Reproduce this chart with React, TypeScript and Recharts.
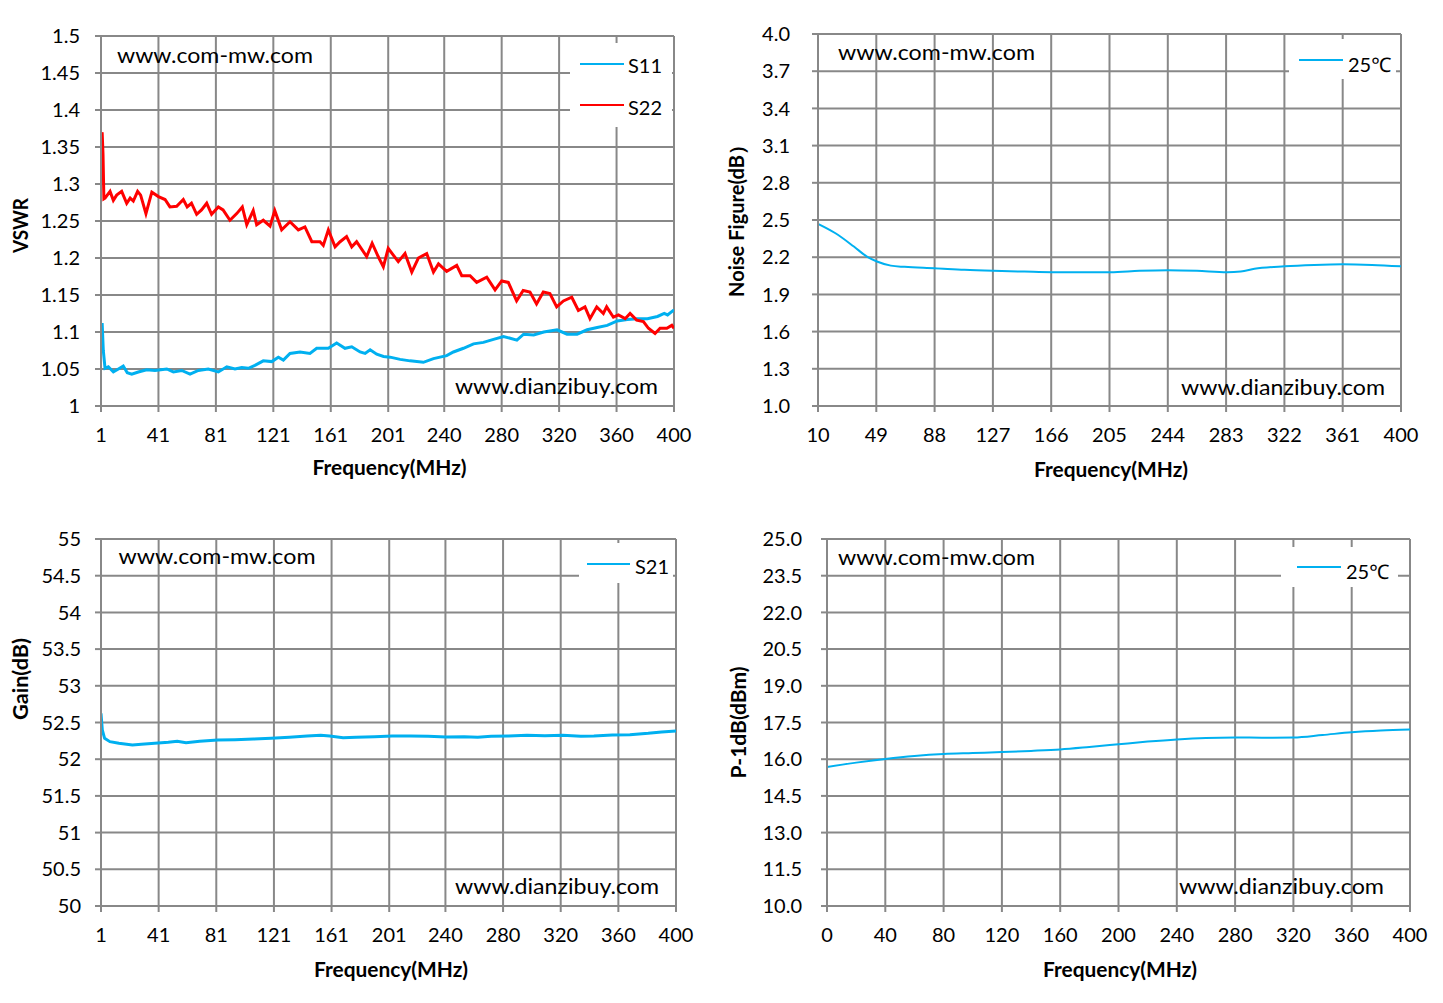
import React from 'react';
import { LineChart, Line, XAxis, YAxis, CartesianGrid, Legend } from 'recharts';

// ---------- tick labels ----------
const vswrXTicks = [1, 41, 81, 121, 161, 201, 240, 280, 320, 360, 400];
const vswrYTicks = [1, 1.05, 1.1, 1.15, 1.2, 1.25, 1.3, 1.35, 1.4, 1.45, 1.5];
const nfXTicks = [10, 49, 88, 127, 166, 205, 244, 283, 322, 361, 400];
const nfYTicks = [1.0, 1.3, 1.6, 1.9, 2.2, 2.5, 2.8, 3.1, 3.4, 3.7, 4.0];
const gainXTicks = [1, 41, 81, 121, 161, 201, 240, 280, 320, 360, 400];
const gainYTicks = [50, 50.5, 51, 51.5, 52, 52.5, 53, 53.5, 54, 54.5, 55];
const p1dbXTicks = [0, 40, 80, 120, 160, 200, 240, 280, 320, 360, 400];
const p1dbYTicks = [10, 11.5, 13, 14.5, 16, 17.5, 19, 20.5, 22, 23.5, 25];

// ---------- VSWR S11 ----------
const s11Freq = [1, 1.8, 2.6, 3.8, 6.1, 9.6, 13.1, 16.5, 19.3, 22.4, 27, 32.8, 38.6, 46.8, 51.4, 57.2, 63, 68.8, 75.7, 82.7, 88.6, 94.3, 99, 103.6, 108.2, 114, 119.9, 124.5, 128, 132.6, 139.6, 146.5, 151.2, 159.3, 165.1, 170.9, 175.6, 181.4, 184.9, 188.4, 193, 197.7, 202.3, 209.3, 216.2, 225.5, 232.5, 241.7, 246.4, 253.4, 260.4, 267.3, 274.3, 281.3, 290.6, 295.3, 302.3, 309.3, 318.6, 325.5, 332.5, 339.5, 346.5, 353.5, 360.5, 367.5, 374.5, 381.5, 388.5, 393.2, 395.5, 400];
const s11Vswr = [1.1, 1.112, 1.075, 1.051, 1.053, 1.046, 1.05, 1.054, 1.045, 1.043, 1.046, 1.049, 1.048, 1.05, 1.046, 1.048, 1.043, 1.048, 1.05, 1.046, 1.053, 1.05, 1.052, 1.051, 1.055, 1.061, 1.06, 1.066, 1.062, 1.071, 1.073, 1.071, 1.078, 1.078, 1.085, 1.078, 1.08, 1.073, 1.071, 1.076, 1.07, 1.067, 1.066, 1.063, 1.061, 1.059, 1.064, 1.068, 1.073, 1.078, 1.084, 1.086, 1.09, 1.094, 1.089, 1.097, 1.096, 1.1, 1.103, 1.097, 1.097, 1.103, 1.106, 1.109, 1.115, 1.117, 1.118, 1.118, 1.121, 1.125, 1.123, 1.13];

// ---------- VSWR S22 ----------
const s22Freq = [1, 1.8, 2.4, 3, 3.8, 7.3, 9.6, 11.9, 15.4, 18.9, 21.3, 23.5, 26.5, 28.6, 32.3, 36.4, 41, 45.6, 49, 53.7, 58.3, 61, 64, 67.6, 71, 74.6, 78, 82.7, 86, 90.8, 95.5, 99.4, 102.5, 107, 109.4, 114, 118.7, 122, 126.8, 132.6, 138.4, 143, 147.8, 153.5, 155.8, 159.3, 164, 167.5, 172, 175.6, 179, 186, 189.8, 194, 197.6, 201, 208, 212.7, 217.4, 222, 227.8, 232.5, 236, 241.7, 248.7, 252.2, 258, 262.6, 269.6, 275.4, 280, 284.6, 290.4, 295, 299.7, 304.3, 309, 313.6, 318.3, 323, 328.8, 333.4, 338, 341.5, 346.2, 350.8, 353.1, 357.8, 361.3, 366, 369.4, 374, 378.7, 382.2, 386.8, 390.3, 395, 398.5, 400];
const s22Vswr = [1.36, 1.37, 1.34, 1.28, 1.281, 1.29, 1.278, 1.285, 1.29, 1.274, 1.281, 1.277, 1.29, 1.285, 1.26, 1.289, 1.283, 1.279, 1.269, 1.27, 1.279, 1.269, 1.274, 1.259, 1.265, 1.274, 1.259, 1.269, 1.265, 1.251, 1.26, 1.269, 1.245, 1.264, 1.245, 1.251, 1.243, 1.264, 1.238, 1.249, 1.238, 1.242, 1.222, 1.222, 1.217, 1.238, 1.215, 1.222, 1.229, 1.215, 1.222, 1.202, 1.22, 1.202, 1.188, 1.213, 1.195, 1.206, 1.181, 1.2, 1.206, 1.181, 1.192, 1.182, 1.19, 1.176, 1.176, 1.167, 1.174, 1.157, 1.169, 1.167, 1.142, 1.156, 1.154, 1.138, 1.154, 1.152, 1.134, 1.142, 1.147, 1.129, 1.134, 1.118, 1.134, 1.125, 1.134, 1.12, 1.123, 1.118, 1.125, 1.116, 1.114, 1.105, 1.098, 1.105, 1.105, 1.109, 1.105];

// ---------- Noise figure ----------
const nfFreq = [10, 21.7, 34, 43.3, 49.4, 58.7, 67.9, 88, 108, 127.4, 148, 166.5, 185, 205.6, 225, 244, 263.5, 283.6, 292.8, 302, 322, 342, 361, 380.6, 400];
const nf25C = [2.469, 2.393, 2.286, 2.2, 2.165, 2.132, 2.122, 2.111, 2.098, 2.09, 2.084, 2.079, 2.079, 2.079, 2.09, 2.095, 2.09, 2.079, 2.084, 2.106, 2.127, 2.138, 2.143, 2.138, 2.127];

// ---------- Gain S21 ----------
const gainFreq = [1, 1.9, 3.5, 7.2, 13.4, 22.8, 29, 38.3, 47.7, 53.9, 60, 69.5, 82, 94, 106.8, 119, 131.7, 144, 153.5, 159.7, 169, 178, 190.8, 203, 215.7, 228, 240.6, 253, 262.4, 271.7, 284, 296.6, 309, 321.5, 334, 343, 355.8, 368, 380.7, 390, 400];
const gainS21 = [52.625, 52.398, 52.284, 52.239, 52.216, 52.194, 52.203, 52.216, 52.23, 52.244, 52.225, 52.244, 52.262, 52.266, 52.275, 52.284, 52.298, 52.316, 52.325, 52.316, 52.293, 52.298, 52.307, 52.316, 52.316, 52.312, 52.303, 52.307, 52.298, 52.312, 52.316, 52.325, 52.321, 52.325, 52.312, 52.316, 52.33, 52.334, 52.353, 52.371, 52.384];

// ---------- P-1dB ----------
const p1dbFreq = [0, 20, 40, 60, 80, 100, 120, 140, 160, 180, 200, 220, 240, 260, 280, 300, 320, 340, 360, 380, 400];
const p1db25C = [15.68, 15.86, 16.01, 16.13, 16.21, 16.25, 16.29, 16.34, 16.4, 16.5, 16.61, 16.72, 16.81, 16.87, 16.89, 16.88, 16.89, 16.99, 17.1, 17.17, 17.21];

// ---------- styling ----------
const FONT = 'Lato, "Open Sans", "Noto Sans", sans-serif';
const GRID = '#888888';
const BLUE = '#00B0F0';
const RED = '#FF0000';
const Y_W = 70;
const X_H = 40;

const toPoints = (xs: number[], ys: number[]) => xs.map((f, i) => ({ f, v: ys[i] }));

type Series = { name: string; color: string; width: number; curve: 'linear' | 'monotone'; freq: number[]; values: number[] };
type LegendBoxDef = { x: number; y: number; w: number; h: number; lineX: number; lineLen: number; textX: number; rows: number[]; capRows: number[] };
type PanelDef = {
  left: number; top: number; width: number; height: number;
  plot: { x0: number; x1: number; y0: number; y1: number };
  xDomain: [number, number]; xTicks: number[];
  yDomain: [number, number]; yTicks: number[]; yFixed: boolean; yTickMargin: number;
  series: Series[];
  legend: LegendBoxDef;
};

const LegendBox = ({ payload, box }: { payload?: any[]; box: LegendBoxDef }) => (
  <div style={{ position: 'relative', width: box.w, height: box.h, background: '#ffffff', fontFamily: FONT }}>
    {(payload || []).map((p: any, i: number) => (
      <React.Fragment key={i}>
        <div style={{ position: 'absolute', left: box.lineX - box.x, top: box.rows[i] - box.y - 1, width: box.lineLen, height: 2, background: p.color }} />
        <span style={{ position: 'absolute', left: box.textX - box.x, top: box.capRows[i] - box.y - 12.5, fontSize: 20, lineHeight: '24px', color: '#000', whiteSpace: 'nowrap' }}>{p.value}</span>
      </React.Fragment>
    ))}
  </div>
);

const Panel = ({ d }: { d: PanelDef }) => {
  const margin = {
    top: d.plot.y0 - d.top,
    right: d.left + d.width - d.plot.x1,
    left: d.plot.x0 - d.left - Y_W,
    bottom: d.top + d.height - d.plot.y1 - X_H,
  };
  const tickStyle = { fontSize: 20, fill: '#000', fontFamily: FONT };
  return (
    <div style={{ position: 'absolute', left: d.left, top: d.top, width: d.width, height: d.height }}>
      <LineChart width={d.width} height={d.height} margin={margin}>
        <CartesianGrid stroke={GRID} strokeWidth={2} />
        <XAxis
          type="number" dataKey="f" domain={d.xDomain} ticks={d.xTicks} interval={0} allowDataOverflow
          height={X_H} tick={tickStyle} tickSize={6} tickMargin={15.5}
          axisLine={{ stroke: GRID, strokeWidth: 2 }} tickLine={{ stroke: GRID, strokeWidth: 2 }}
        />
        <YAxis
          type="number" domain={d.yDomain} ticks={d.yTicks} interval={0} allowDataOverflow
          width={Y_W} tick={tickStyle} tickSize={6} tickMargin={d.yTickMargin}
          tickFormatter={(v: number) => (d.yFixed ? v.toFixed(1) : String(v))}
          axisLine={{ stroke: GRID, strokeWidth: 2 }} tickLine={{ stroke: GRID, strokeWidth: 2 }}
        />
        {d.series.map((s) => (
          <Line
            key={s.name} data={toPoints(s.freq, s.values)} dataKey="v" name={s.name}
            stroke={s.color} strokeWidth={s.width} type={s.curve} dot={false} activeDot={false}
            isAnimationActive={false}
          />
        ))}
        <Legend
          layout="vertical" align="center" verticalAlign="middle"
          wrapperStyle={{ left: d.legend.x - d.left, top: d.legend.y - d.top, width: d.legend.w, height: d.legend.h, margin: 0, padding: 0 }}
          content={(p: any) => <LegendBox payload={p.payload} box={d.legend} />}
        />
      </LineChart>
    </div>
  );
};

const panels: PanelDef[] = [
  {
    left: 0, top: 0, width: 700, height: 490,
    plot: { x0: 101, x1: 674, y0: 36, y1: 406 },
    xDomain: [1, 400], xTicks: vswrXTicks, yDomain: [1, 1.5], yTicks: vswrYTicks, yFixed: false, yTickMargin: 15,
    series: [
      { name: 'S11', color: BLUE, width: 3, curve: 'linear', freq: s11Freq, values: s11Vswr },
      { name: 'S22', color: RED, width: 3, curve: 'linear', freq: s22Freq, values: s22Vswr },
    ],
    legend: { x: 570, y: 43, w: 102, h: 84, lineX: 580, lineLen: 44, textX: 628, rows: [63.5, 105], capRows: [65, 107] },
  },
  {
    left: 720, top: 0, width: 723, height: 490,
    plot: { x0: 818, x1: 1401, y0: 34, y1: 406 },
    xDomain: [10, 400], xTicks: nfXTicks, yDomain: [1, 4], yTicks: nfYTicks, yFixed: true, yTickMargin: 22,
    series: [{ name: '25℃', color: BLUE, width: 2, curve: 'monotone', freq: nfFreq, values: nf25C }],
    legend: { x: 1289, y: 39, w: 107, h: 40, lineX: 1299, lineLen: 44, textX: 1348, rows: [59.5], capRows: [64] },
  },
  {
    left: 0, top: 500, width: 700, height: 500,
    plot: { x0: 101, x1: 676, y0: 539, y1: 906 },
    xDomain: [1, 400], xTicks: gainXTicks, yDomain: [50, 55], yTicks: gainYTicks, yFixed: false, yTickMargin: 14,
    series: [{ name: 'S21', color: BLUE, width: 3, curve: 'linear', freq: gainFreq, values: gainS21 }],
    legend: { x: 579, y: 543, w: 94, h: 40, lineX: 587, lineLen: 43, textX: 635, rows: [564], capRows: [566] },
  },
  {
    left: 720, top: 500, width: 723, height: 500,
    plot: { x0: 827, x1: 1410, y0: 539, y1: 906 },
    xDomain: [0, 400], xTicks: p1dbXTicks, yDomain: [10, 25], yTicks: p1dbYTicks, yFixed: true, yTickMargin: 19,
    series: [{ name: '25℃', color: BLUE, width: 2, curve: 'monotone', freq: p1dbFreq, values: p1db25C }],
    legend: { x: 1281, y: 547, w: 117, h: 40, lineX: 1297, lineLen: 44, textX: 1346, rows: [567], capRows: [571] },
  },
];

type Txt = { text: string; x: number; y: number; len: number; size: number; bold?: boolean; rot?: boolean; anchor?: 'start' | 'middle' };

const overlayTexts: Txt[] = [
  // watermarks
  { text: 'www.com-mw.com', x: 117, y: 63, len: 196, size: 22 },
  { text: 'www.dianzibuy.com', x: 455, y: 394, len: 203, size: 22 },
  { text: 'www.com-mw.com', x: 838, y: 60, len: 197, size: 22 },
  { text: 'www.dianzibuy.com', x: 1181, y: 395, len: 204, size: 22 },
  { text: 'www.com-mw.com', x: 118.5, y: 563.5, len: 197, size: 22 },
  { text: 'www.dianzibuy.com', x: 455, y: 893.5, len: 204, size: 22 },
  { text: 'www.com-mw.com', x: 838, y: 564.5, len: 197, size: 22 },
  { text: 'www.dianzibuy.com', x: 1179, y: 893.5, len: 205, size: 22 },
  // x titles
  { text: 'Frequency(MHz)', x: 389.5, y: 475, len: 154, size: 20, bold: true, anchor: 'middle' },
  { text: 'Frequency(MHz)', x: 1111, y: 476.5, len: 154, size: 20, bold: true, anchor: 'middle' },
  { text: 'Frequency(MHz)', x: 391, y: 976.5, len: 154, size: 20, bold: true, anchor: 'middle' },
  { text: 'Frequency(MHz)', x: 1120, y: 976.5, len: 154, size: 20, bold: true, anchor: 'middle' },
  // y titles (rotated)
  { text: 'VSWR', x: 28, y: 225.5, len: 55, size: 20, bold: true, rot: true, anchor: 'middle' },
  { text: 'Noise Figure(dB）', x: 744, y: 216, len: 162, size: 20, bold: true, rot: true, anchor: 'middle' },
  { text: 'Gain(dB)', x: 27.5, y: 679, len: 82, size: 20, bold: true, rot: true, anchor: 'middle' },
  { text: 'P-1dB(dBm)', x: 745.5, y: 722.5, len: 112, size: 20, bold: true, rot: true, anchor: 'middle' },
];

export default function App() {
  return (
    <div style={{ position: 'absolute', left: 0, top: 0, width: 1443, height: 1003, background: '#fff', fontFamily: FONT, overflow: 'hidden' }}>
      {panels.map((d, i) => (
        <Panel key={i} d={d} />
      ))}
      <svg width={1443} height={1003} style={{ position: 'absolute', left: 0, top: 0, pointerEvents: 'none' }}>
        {overlayTexts.map((t, i) => (
          <text
            key={i}
            x={t.rot ? 0 : t.x}
            y={t.rot ? 0 : t.y}
            transform={t.rot ? `translate(${t.x},${t.y}) rotate(-90)` : undefined}
            textAnchor={t.anchor || 'start'}
            fontFamily={FONT}
            fontSize={t.size}
            fontWeight={t.bold ? 700 : 400}
            fill="#000"
            textLength={t.len}
            lengthAdjust="spacingAndGlyphs"
          >
            {t.text}
          </text>
        ))}
      </svg>
    </div>
  );
}
